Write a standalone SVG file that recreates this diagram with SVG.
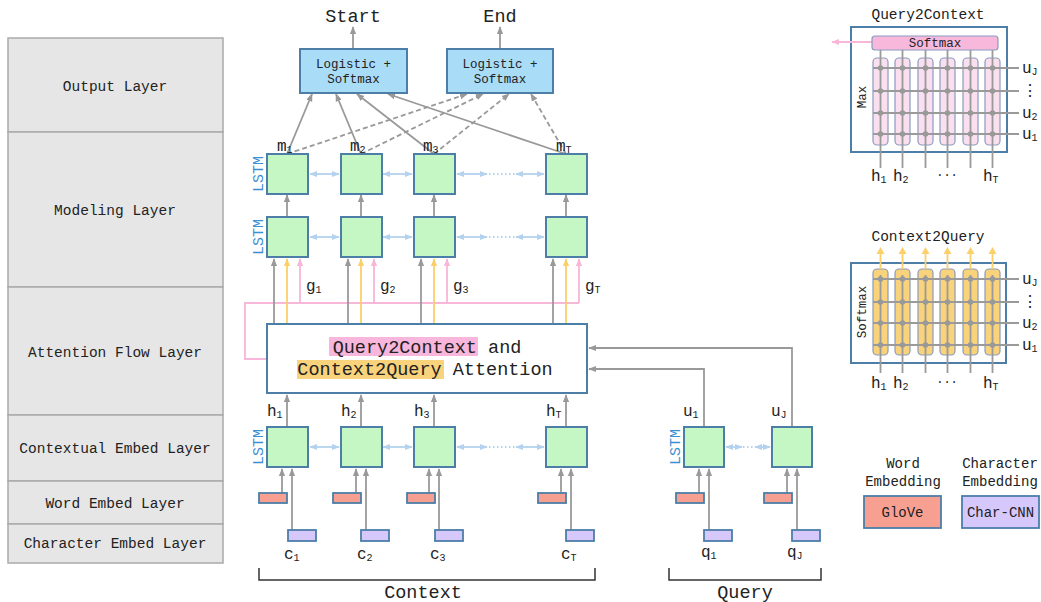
<svg xmlns="http://www.w3.org/2000/svg" width="1041" height="602" viewBox="0 0 1041 602">
<style>
text{font-family:"Liberation Mono","DejaVu Sans Mono",monospace;fill:#222}
.lay{fill:#e6e6e6;stroke:#aaa;stroke-width:1.5}
.lt{font-size:14.5px;text-anchor:middle}
.out{fill:#a9dcf7;stroke:#4c7ea8;stroke-width:2}
.ot{font-size:12.5px;text-anchor:middle}
.box{fill:#c4f7c4;stroke:#4c7ea8;stroke-width:2}
.we{fill:#f7a091;stroke:#4c7ea8;stroke-width:1.8}
.ce{fill:#d6c8fa;stroke:#4c7ea8;stroke-width:1.8}
.g{stroke:#999;stroke-width:1.8;fill:none}
.y{stroke:#fbd06a;stroke-width:1.8;fill:none}
.p{stroke:#f8b6d8;stroke-width:1.8;fill:none}
.lb{stroke:#b4d2ee;stroke-width:1.8;fill:none}
.dash{stroke-dasharray:5 3}
.dot{stroke-dasharray:1.5 2.5}
.lstm{font-size:15px;fill:#3b8fd3;text-anchor:middle}
.v{font-size:16px}
.sub{font-size:10px}
.big{font-size:18.5px;text-anchor:middle}
.ins{fill:#fff;stroke:#4c7ea8;stroke-width:2}
.colp{fill:#fae0ef;stroke:#8a9cbf;stroke-width:1.2}
.coly{fill:#f9d27c;stroke:#8a9cbf;stroke-width:1.2}
.gl{stroke:#9a9a9a;stroke-width:1.8;fill:none}
.dt{fill:#999}
</style>
<defs>
<marker id="ag" viewBox="0 0 10 10" refX="9" refY="5" markerWidth="8" markerHeight="8" markerUnits="userSpaceOnUse" orient="auto-start-reverse"><path d="M0,1 L10,5 L0,9 z" fill="#999"/></marker>
<marker id="ay" viewBox="0 0 10 10" refX="9" refY="5" markerWidth="8" markerHeight="8" markerUnits="userSpaceOnUse" orient="auto-start-reverse"><path d="M0,1 L10,5 L0,9 z" fill="#fbd06a"/></marker>
<marker id="ap" viewBox="0 0 10 10" refX="9" refY="5" markerWidth="8" markerHeight="8" markerUnits="userSpaceOnUse" orient="auto-start-reverse"><path d="M0,1 L10,5 L0,9 z" fill="#f8b6d8"/></marker>
<marker id="ab" viewBox="0 0 10 10" refX="9" refY="5" markerWidth="8" markerHeight="8" markerUnits="userSpaceOnUse" orient="auto-start-reverse"><path d="M0,1 L10,5 L0,9 z" fill="#b4d2ee"/></marker>
</defs>
<rect width="1041" height="602" fill="#fff"/>

<g id="layers">
<rect class="lay" x="8" y="38" width="215" height="94"/>
<rect class="lay" x="8" y="132" width="215" height="155"/>
<rect class="lay" x="8" y="287" width="215" height="128"/>
<rect class="lay" x="8" y="415" width="215" height="66"/>
<rect class="lay" x="8" y="481" width="215" height="43"/>
<rect class="lay" x="8" y="524" width="215" height="39"/>
<text class="lt" x="115" y="91">Output Layer</text>
<text class="lt" x="115" y="215">Modeling Layer</text>
<text class="lt" x="115" y="357">Attention Flow Layer</text>
<text class="lt" x="115" y="453">Contextual Embed Layer</text>
<text class="lt" x="115" y="508">Word Embed Layer</text>
<text class="lt" x="115" y="548">Character Embed Layer</text>
</g>

<g id="connectors">
<line class="g" x1="353" y1="49" x2="353" y2="27" marker-end="url(#ag)"/>
<line class="g" x1="500" y1="49" x2="500" y2="27" marker-end="url(#ag)"/>
<line class="g" x1="287" y1="154" x2="312" y2="94" marker-end="url(#ag)"/>
<line class="g" x1="361" y1="154" x2="336" y2="94" marker-end="url(#ag)"/>
<line class="g" x1="434" y1="154" x2="357" y2="94" marker-end="url(#ag)"/>
<line class="g" x1="566" y1="154" x2="388" y2="94" marker-end="url(#ag)"/>
<line class="g dash" x1="287" y1="154" x2="467" y2="94" marker-end="url(#ag)"/>
<line class="g dash" x1="361" y1="154" x2="483" y2="94" marker-end="url(#ag)"/>
<line class="g dash" x1="434" y1="154" x2="509" y2="94" marker-end="url(#ag)"/>
<line class="g dash" x1="566" y1="154" x2="531" y2="94" marker-end="url(#ag)"/>
<line class="g" x1="287" y1="217" x2="287" y2="195" marker-end="url(#ag)"/>
<line class="g" x1="361" y1="217" x2="361" y2="195" marker-end="url(#ag)"/>
<line class="g" x1="434" y1="217" x2="434" y2="195" marker-end="url(#ag)"/>
<line class="g" x1="566" y1="217" x2="566" y2="195" marker-end="url(#ag)"/>
<line class="lb" x1="310" y1="174" x2="339" y2="174" marker-start="url(#ab)" marker-end="url(#ab)"/>
<line class="lb" x1="383" y1="174" x2="412" y2="174" marker-start="url(#ab)" marker-end="url(#ab)"/>
<line class="lb" x1="457" y1="174" x2="487" y2="174" marker-start="url(#ab)" marker-end="url(#ab)"/>
<line class="lb dot" x1="489" y1="174" x2="515" y2="174"/>
<line class="lb" x1="516" y1="174" x2="544" y2="174" marker-start="url(#ab)" marker-end="url(#ab)"/>
<line class="lb" x1="310" y1="237" x2="339" y2="237" marker-start="url(#ab)" marker-end="url(#ab)"/>
<line class="lb" x1="383" y1="237" x2="412" y2="237" marker-start="url(#ab)" marker-end="url(#ab)"/>
<line class="lb" x1="457" y1="237" x2="487" y2="237" marker-start="url(#ab)" marker-end="url(#ab)"/>
<line class="lb dot" x1="489" y1="237" x2="515" y2="237"/>
<line class="lb" x1="516" y1="237" x2="544" y2="237" marker-start="url(#ab)" marker-end="url(#ab)"/>
<line class="lb" x1="310" y1="447" x2="339" y2="447" marker-start="url(#ab)" marker-end="url(#ab)"/>
<line class="lb" x1="383" y1="447" x2="412" y2="447" marker-start="url(#ab)" marker-end="url(#ab)"/>
<line class="lb" x1="457" y1="447" x2="487" y2="447" marker-start="url(#ab)" marker-end="url(#ab)"/>
<line class="lb dot" x1="489" y1="447" x2="515" y2="447"/>
<line class="lb" x1="516" y1="447" x2="544" y2="447" marker-start="url(#ab)" marker-end="url(#ab)"/>
<line class="lb" x1="726" y1="447" x2="742" y2="447" marker-start="url(#ab)" marker-end="url(#ab)"/>
<line class="lb dot" x1="743" y1="447" x2="754" y2="447"/>
<line class="lb" x1="755" y1="447" x2="770" y2="447" marker-start="url(#ab)" marker-end="url(#ab)"/>
<path class="p" d="M267,359 H245 V303 H579"/>
<line class="p" x1="300" y1="303" x2="300" y2="259" marker-end="url(#ap)"/>
<line class="p" x1="374" y1="303" x2="374" y2="259" marker-end="url(#ap)"/>
<line class="p" x1="447" y1="303" x2="447" y2="259" marker-end="url(#ap)"/>
<line class="p" x1="579" y1="303" x2="579" y2="259" marker-end="url(#ap)"/>
<line class="g" x1="274" y1="324" x2="274" y2="259" marker-end="url(#ag)"/>
<line class="g" x1="348" y1="324" x2="348" y2="259" marker-end="url(#ag)"/>
<line class="g" x1="421" y1="324" x2="421" y2="259" marker-end="url(#ag)"/>
<line class="g" x1="553" y1="324" x2="553" y2="259" marker-end="url(#ag)"/>
<line class="y" x1="287" y1="324" x2="287" y2="259" marker-end="url(#ay)"/>
<line class="y" x1="361" y1="324" x2="361" y2="259" marker-end="url(#ay)"/>
<line class="y" x1="434" y1="324" x2="434" y2="259" marker-end="url(#ay)"/>
<line class="y" x1="566" y1="324" x2="566" y2="259" marker-end="url(#ay)"/>
<line class="g" x1="287" y1="427" x2="287" y2="395" marker-end="url(#ag)"/>
<line class="g" x1="361" y1="427" x2="361" y2="395" marker-end="url(#ag)"/>
<line class="g" x1="434" y1="427" x2="434" y2="395" marker-end="url(#ag)"/>
<line class="g" x1="566" y1="427" x2="566" y2="395" marker-end="url(#ag)"/>
<path class="g" d="M704,427 V369 H589" marker-end="url(#ag)"/>
<path class="g" d="M792,427 V348 H589" marker-end="url(#ag)"/>
<line class="g" x1="282" y1="493" x2="282" y2="469" marker-end="url(#ag)"/>
<line class="g" x1="292" y1="530" x2="292" y2="469" marker-end="url(#ag)"/>
<line class="g" x1="356" y1="493" x2="356" y2="469" marker-end="url(#ag)"/>
<line class="g" x1="366" y1="530" x2="366" y2="469" marker-end="url(#ag)"/>
<line class="g" x1="429" y1="493" x2="429" y2="469" marker-end="url(#ag)"/>
<line class="g" x1="439" y1="530" x2="439" y2="469" marker-end="url(#ag)"/>
<line class="g" x1="561" y1="493" x2="561" y2="469" marker-end="url(#ag)"/>
<line class="g" x1="571" y1="530" x2="571" y2="469" marker-end="url(#ag)"/>
<line class="g" x1="699" y1="493" x2="699" y2="469" marker-end="url(#ag)"/>
<line class="g" x1="709" y1="530" x2="709" y2="469" marker-end="url(#ag)"/>
<line class="g" x1="787" y1="493" x2="787" y2="469" marker-end="url(#ag)"/>
<line class="g" x1="797" y1="530" x2="797" y2="469" marker-end="url(#ag)"/>
</g>

<g id="output-start">
<rect class="out" x="300" y="49" width="107" height="44"/>
<text class="ot" x="353.5" y="68">Logistic +</text>
<text class="ot" x="353.5" y="83">Softmax</text>
<text class="big" x="353" y="22">Start</text>
</g>
<g id="output-end">
<rect class="out" x="447" y="49" width="106" height="44"/>
<text class="ot" x="500" y="68">Logistic +</text>
<text class="ot" x="500" y="83">Softmax</text>
<text class="big" x="500" y="22">End</text>
</g>

<g id="modeling">
<rect class="box" x="267" y="154" width="41" height="40"/>
<rect class="box" x="341" y="154" width="41" height="40"/>
<rect class="box" x="414" y="154" width="41" height="40"/>
<rect class="box" x="546" y="154" width="41" height="40"/>
<rect class="box" x="267" y="217" width="41" height="40"/>
<rect class="box" x="341" y="217" width="41" height="40"/>
<rect class="box" x="414" y="217" width="41" height="40"/>
<rect class="box" x="546" y="217" width="41" height="40"/>
<text class="lstm" transform="translate(263,174) rotate(-90)">LSTM</text>
<text class="lstm" transform="translate(263,237) rotate(-90)">LSTM</text>
<text class="v" x="277" y="151">m<tspan class="sub" dy="2">1</tspan></text>
<text class="v" x="350" y="151">m<tspan class="sub" dy="2">2</tspan></text>
<text class="v" x="423" y="151">m<tspan class="sub" dy="2">3</tspan></text>
<text class="v" x="556" y="151">m<tspan class="sub" dy="2">T</tspan></text>
<text class="v" x="306" y="291">g<tspan class="sub" dy="2">1</tspan></text>
<text class="v" x="380" y="291">g<tspan class="sub" dy="2">2</tspan></text>
<text class="v" x="453" y="291">g<tspan class="sub" dy="2">3</tspan></text>
<text class="v" x="585" y="291">g<tspan class="sub" dy="2">T</tspan></text>
</g>

<g id="attention">
<rect fill="#fff" stroke="#4c7ea8" stroke-width="2" x="267" y="324" width="320" height="69"/>
<rect fill="#f8b6dc" x="329" y="337" width="149" height="19"/>
<rect fill="#f9d27c" x="297" y="360" width="147" height="19"/>
<text x="427" y="353" font-size="18.5" text-anchor="middle">Query2Context and</text>
<text x="425" y="375" font-size="18.5" text-anchor="middle">Context2Query Attention</text>
</g>

<g id="contextual">
<rect class="box" x="267" y="427" width="41" height="40"/>
<rect class="box" x="341" y="427" width="41" height="40"/>
<rect class="box" x="414" y="427" width="41" height="40"/>
<rect class="box" x="546" y="427" width="41" height="40"/>
<text class="lstm" transform="translate(263,447) rotate(-90)">LSTM</text>
<text class="v" x="267" y="416">h<tspan class="sub" dy="2">1</tspan></text>
<text class="v" x="341" y="416">h<tspan class="sub" dy="2">2</tspan></text>
<text class="v" x="414" y="416">h<tspan class="sub" dy="2">3</tspan></text>
<text class="v" x="546" y="416">h<tspan class="sub" dy="2">T</tspan></text>
<rect class="we" x="259" y="493" width="28" height="10"/>
<rect class="we" x="333" y="493" width="28" height="10"/>
<rect class="we" x="407" y="493" width="28" height="10"/>
<rect class="we" x="538" y="493" width="28" height="10"/>
<rect class="ce" x="288" y="530" width="28" height="11"/>
<rect class="ce" x="361" y="530" width="28" height="11"/>
<rect class="ce" x="435" y="530" width="28" height="11"/>
<rect class="ce" x="566" y="530" width="28" height="11"/>
<text class="v" x="284" y="559">c<tspan class="sub" dy="2">1</tspan></text>
<text class="v" x="357" y="559">c<tspan class="sub" dy="2">2</tspan></text>
<text class="v" x="430" y="559">c<tspan class="sub" dy="2">3</tspan></text>
<text class="v" x="561" y="559">c<tspan class="sub" dy="2">T</tspan></text>
<path d="M259,568 V580 H595 V568" fill="none" stroke="#333" stroke-width="1.5"/>
<text class="big" x="423" y="598">Context</text>
</g>

<g id="query">
<rect class="box" x="684" y="427" width="40" height="40"/>
<rect class="box" x="772" y="427" width="40" height="40"/>
<text class="lstm" transform="translate(680,447) rotate(-90)">LSTM</text>
<text class="v" x="683" y="416">u<tspan class="sub" dy="2">1</tspan></text>
<text class="v" x="771" y="416">u<tspan class="sub" dy="2">J</tspan></text>
<rect class="we" x="676" y="493" width="28" height="10"/>
<rect class="we" x="764" y="493" width="28" height="10"/>
<rect class="ce" x="704" y="530" width="28" height="11"/>
<rect class="ce" x="792" y="530" width="28" height="11"/>
<text class="v" x="701" y="557">q<tspan class="sub" dy="2">1</tspan></text>
<text class="v" x="787" y="557">q<tspan class="sub" dy="2">J</tspan></text>
<path d="M669,568 V580 H821 V568" fill="none" stroke="#333" stroke-width="1.5"/>
<text class="big" x="745" y="598">Query</text>
</g>

<g id="q2c-inset">
<text x="928" y="19" font-size="14.5" text-anchor="middle">Query2Context</text>
<rect class="ins" x="851" y="27" width="156" height="125"/>
<line class="p" x1="872" y1="42" x2="832" y2="42" marker-end="url(#ap)"/>
<rect x="872" y="36" width="126" height="14" rx="3" fill="#f7b8dc" stroke="#8a9cbf" stroke-width="1.2"/>
<text x="935" y="47" font-size="12.5" text-anchor="middle">Softmax</text>
<rect class="colp" x="873" y="58" width="15" height="87" rx="4"/>
<rect class="colp" x="895" y="58" width="15" height="87" rx="4"/>
<rect class="colp" x="918" y="58" width="15" height="87" rx="4"/>
<rect class="colp" x="940" y="58" width="15" height="87" rx="4"/>
<rect class="colp" x="963" y="58" width="15" height="87" rx="4"/>
<rect class="colp" x="985" y="58" width="15" height="87" rx="4"/>
<path class="gl" d="M880.5,50 V168 M902.5,50 V168 M925.5,50 V168 M947.5,50 V168 M970.5,50 V168 M992.5,50 V168"/>
<path class="gl" d="M873,68 H1019 M873,91 H1019 M873,113 H1019 M873,134 H1019"/>
<g class="dt">
<circle cx="880.5" cy="68" r="2.8"/><circle cx="902.5" cy="68" r="2.8"/><circle cx="925.5" cy="68" r="2.8"/><circle cx="947.5" cy="68" r="2.8"/><circle cx="970.5" cy="68" r="2.8"/><circle cx="992.5" cy="68" r="2.8"/>
<circle cx="880.5" cy="91" r="2.8"/><circle cx="902.5" cy="91" r="2.8"/><circle cx="925.5" cy="91" r="2.8"/><circle cx="947.5" cy="91" r="2.8"/><circle cx="970.5" cy="91" r="2.8"/><circle cx="992.5" cy="91" r="2.8"/>
<circle cx="880.5" cy="113" r="2.8"/><circle cx="902.5" cy="113" r="2.8"/><circle cx="925.5" cy="113" r="2.8"/><circle cx="947.5" cy="113" r="2.8"/><circle cx="970.5" cy="113" r="2.8"/><circle cx="992.5" cy="113" r="2.8"/>
<circle cx="880.5" cy="134" r="2.8"/><circle cx="902.5" cy="134" r="2.8"/><circle cx="925.5" cy="134" r="2.8"/><circle cx="947.5" cy="134" r="2.8"/><circle cx="970.5" cy="134" r="2.8"/><circle cx="992.5" cy="134" r="2.8"/>
</g>
<text font-size="12.5" text-anchor="middle" transform="translate(866,97) rotate(-90)">Max</text>
<text class="v" x="1022" y="73">u<tspan class="sub" dy="2">J</tspan></text>
<text class="v" x="1022" y="96">⋮</text>
<text class="v" x="1022" y="118">u<tspan class="sub" dy="2">2</tspan></text>
<text class="v" x="1022" y="139">u<tspan class="sub" dy="2">1</tspan></text>
<text class="v" x="871" y="181">h<tspan class="sub" dy="2">1</tspan></text>
<text class="v" x="893" y="181">h<tspan class="sub" dy="2">2</tspan></text>
<text x="947" y="179" font-size="12" text-anchor="middle">···</text>
<text class="v" x="983" y="181">h<tspan class="sub" dy="2">T</tspan></text>
</g>

<g id="c2q-inset">
<text x="928" y="241" font-size="14.5" text-anchor="middle">Context2Query</text>
<rect class="ins" x="851" y="263" width="155" height="100"/>
<rect class="coly" x="873" y="269" width="15" height="86" rx="4"/>
<rect class="coly" x="895" y="269" width="15" height="86" rx="4"/>
<rect class="coly" x="918" y="269" width="15" height="86" rx="4"/>
<rect class="coly" x="940" y="269" width="15" height="86" rx="4"/>
<rect class="coly" x="963" y="269" width="15" height="86" rx="4"/>
<rect class="coly" x="985" y="269" width="15" height="86" rx="4"/>
<path class="y" d="M880.5,269 V252 M902.5,269 V252 M925.5,269 V252 M947.5,269 V252 M970.5,269 V252 M992.5,269 V252"/>
<g fill="#fbd06a">
<path d="M876.5,254 L880.5,247 L884.5,254 z"/><path d="M898.5,254 L902.5,247 L906.5,254 z"/><path d="M921.5,254 L925.5,247 L929.5,254 z"/><path d="M943.5,254 L947.5,247 L951.5,254 z"/><path d="M966.5,254 L970.5,247 L974.5,254 z"/><path d="M988.5,254 L992.5,247 L996.5,254 z"/>
</g>
<path class="gl" d="M880.5,275 V373 M902.5,275 V373 M925.5,275 V373 M947.5,275 V373 M970.5,275 V373 M992.5,275 V373"/>
<path class="gl" d="M873,279 H1019 M873,302 H1019 M873,323 H1019 M873,345 H1019"/>
<g class="dt">
<circle cx="880.5" cy="279" r="2.8"/><circle cx="902.5" cy="279" r="2.8"/><circle cx="925.5" cy="279" r="2.8"/><circle cx="947.5" cy="279" r="2.8"/><circle cx="970.5" cy="279" r="2.8"/><circle cx="992.5" cy="279" r="2.8"/>
<circle cx="880.5" cy="302" r="2.8"/><circle cx="902.5" cy="302" r="2.8"/><circle cx="925.5" cy="302" r="2.8"/><circle cx="947.5" cy="302" r="2.8"/><circle cx="970.5" cy="302" r="2.8"/><circle cx="992.5" cy="302" r="2.8"/>
<circle cx="880.5" cy="323" r="2.8"/><circle cx="902.5" cy="323" r="2.8"/><circle cx="925.5" cy="323" r="2.8"/><circle cx="947.5" cy="323" r="2.8"/><circle cx="970.5" cy="323" r="2.8"/><circle cx="992.5" cy="323" r="2.8"/>
<circle cx="880.5" cy="345" r="2.8"/><circle cx="902.5" cy="345" r="2.8"/><circle cx="925.5" cy="345" r="2.8"/><circle cx="947.5" cy="345" r="2.8"/><circle cx="970.5" cy="345" r="2.8"/><circle cx="992.5" cy="345" r="2.8"/>
</g>
<text font-size="12.5" text-anchor="middle" transform="translate(866,312) rotate(-90)">Softmax</text>
<text class="v" x="1022" y="284">u<tspan class="sub" dy="2">J</tspan></text>
<text class="v" x="1022" y="307">⋮</text>
<text class="v" x="1022" y="328">u<tspan class="sub" dy="2">2</tspan></text>
<text class="v" x="1022" y="350">u<tspan class="sub" dy="2">1</tspan></text>
<text class="v" x="871" y="388">h<tspan class="sub" dy="2">1</tspan></text>
<text class="v" x="893" y="388">h<tspan class="sub" dy="2">2</tspan></text>
<text x="947" y="386" font-size="12" text-anchor="middle">···</text>
<text class="v" x="983" y="388">h<tspan class="sub" dy="2">T</tspan></text>
</g>

<g id="legend">
<text x="903" y="468" font-size="14" text-anchor="middle">Word</text>
<text x="903" y="486" font-size="14" text-anchor="middle">Embedding</text>
<text x="1000" y="468" font-size="14" text-anchor="middle">Character</text>
<text x="1000" y="486" font-size="14" text-anchor="middle">Embedding</text>
<rect class="we" x="864" y="496" width="77" height="32"/>
<rect class="ce" x="962" y="496" width="77" height="32"/>
<text x="902.5" y="517" font-size="14" text-anchor="middle">GloVe</text>
<text x="1000.5" y="517" font-size="14" text-anchor="middle">Char-CNN</text>
</g>
</svg>
